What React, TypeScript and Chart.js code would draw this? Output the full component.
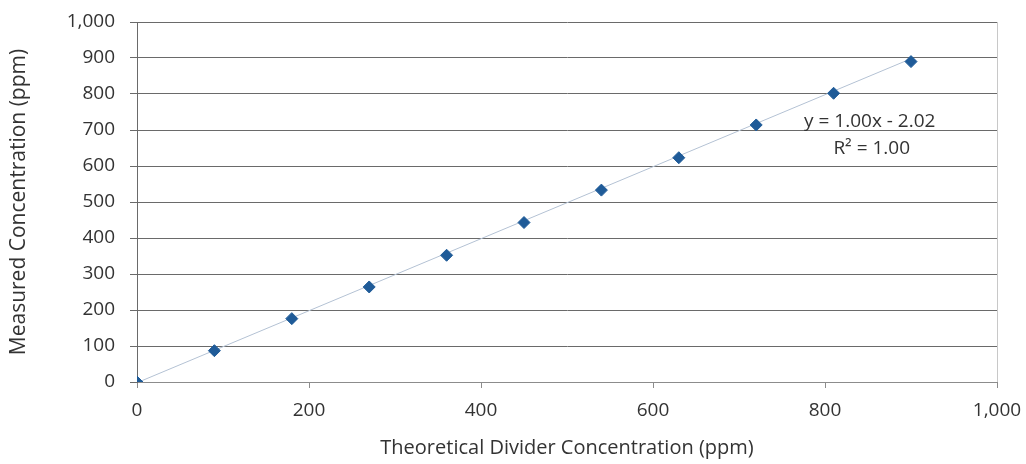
import React, { useEffect, useRef } from "react";
import { Chart, registerables } from "chart.js";

Chart.register(...registerables);

const theoreticalPpm = [0, 90, 180, 270, 360, 450, 540, 630, 720, 810, 900];
const measuredPpm = [0, 87, 176, 264, 352, 443, 533, 623, 714, 802, 890];
const trendX = [0, 900];
const trendY = [-2.02, 897.98];
const equationLines = ["y = 1.00x - 2.02", "R² = 1.00"];
const xTitle = "Theoretical Divider Concentration (ppm)";
const yTitle = "Measured Concentration (ppm)";

const FONT = "'Open Sans', 'Noto Sans', sans-serif";
const TEXT = "#333333";

const extras = {
  id: "extras",
  afterDatasetsDraw(chart: any) {
    const { ctx, chartArea } = chart;
    ctx.save();
    ctx.strokeStyle = "#c8c8c8";
    ctx.lineWidth = 1;
    ctx.beginPath();
    ctx.moveTo(Math.round(chartArea.right) + 0.5, chartArea.top);
    ctx.lineTo(Math.round(chartArea.right) + 0.5, chartArea.bottom);
    ctx.stroke();
    ctx.fillStyle = TEXT;
    ctx.font = `19px ${FONT}`;
    ctx.textAlign = "center";
    ctx.textBaseline = "middle";
    const xs = chart.scales.x;
    const ys = chart.scales.y;
    const cx = xs.getPixelForValue(852);
    ctx.fillText(equationLines[0], cx, ys.getPixelForValue(722));
    ctx.fillText(equationLines[1], cx + 2, ys.getPixelForValue(648));
    ctx.restore();
  },
};

export default function App() {
  const ref = useRef<HTMLCanvasElement>(null);
  useEffect(() => {
    document.body.style.margin = "0";
    const chart = new Chart(ref.current!, {
      type: "scatter",
      data: {
        datasets: [
          {
            label: "trend",
            data: trendX.map((x, i) => ({ x, y: trendY[i] })),
            showLine: true,
            borderColor: "#b4c2d4",
            borderWidth: 1,
            pointRadius: 0,
            order: 2,
          },
          {
            label: "measured",
            data: theoreticalPpm.map((x, i) => ({ x, y: measuredPpm[i] })),
            pointStyle: "rectRot",
            pointRadius: 6,
            backgroundColor: "#1f5b98",
            borderColor: "#1f5b98",
            borderWidth: 1,
            order: 1,
          },
        ],
      },
      options: {
        animation: false,
        responsive: false,
        layout: { padding: { top: 22, right: 29, left: 0, bottom: 0 } },
        plugins: { legend: { display: false }, tooltip: { enabled: false } },
        scales: {
          x: {
            type: "linear",
            min: 0,
            max: 1000,
            ticks: {
              stepSize: 200,
              color: TEXT,
              font: { family: FONT, size: 19 },
              padding: 11,
              callback: (v: any) => Number(v).toLocaleString("en-US"),
            },
            grid: {
              drawOnChartArea: false,
              drawTicks: true,
              tickLength: 6,
              color: "#8c8c8c",
            },
            border: { color: "#8c8c8c", width: 1 },
            title: {
              display: true,
              text: xTitle,
              color: TEXT,
              font: { family: FONT, size: 20 },
              padding: { top: 4, bottom: 4 },
            },
            afterFit: (s: any) => {
              s.height = 82;
              s.paddingLeft = 0;
              s.paddingRight = 0;
            },
          },
          y: {
            type: "linear",
            min: 0,
            max: 1000,
            ticks: {
              stepSize: 100,
              color: TEXT,
              font: { family: FONT, size: 19 },
              padding: 15,
              callback: (v: any) => Number(v).toLocaleString("en-US"),
            },
            grid: {
              color: "#6a6a6a",
              drawTicks: true,
              tickLength: 7,
            },
            border: { color: "#6a6a6a", width: 1 },
            title: {
              display: true,
              text: yTitle,
              color: TEXT,
              font: { family: FONT, size: 21 },
              padding: { top: 6, bottom: 6 },
            },
            afterFit: (s: any) => {
              s.width = 137;
              s.paddingTop = 0;
              s.paddingBottom = 0;
            },
          },
        },
      },
      plugins: [extras],
    });
    return () => chart.destroy();
  }, []);
  return (
    <div style={{ position: "fixed", left: 0, top: 0, width: 1026, height: 464, background: "#fff" }}>
      <canvas ref={ref} width={1026} height={464} />
    </div>
  );
}
